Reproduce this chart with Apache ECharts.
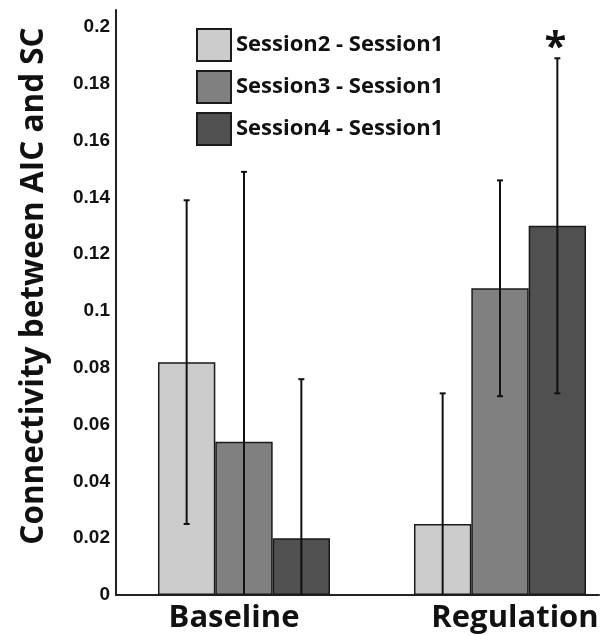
<!DOCTYPE html>
<html>
<head>
<meta charset="utf-8">
<script src="https://cdn.jsdelivr.net/npm/echarts@6/dist/echarts.min.js"></script>
<style>
html,body{margin:0;padding:0;background:#fff;}
#chart{width:609px;height:636px;}
</style>
</head>
<body>
<div id="chart"></div>
<script>
const categories = ['Baseline', 'Regulation'];
const seriesNames = ['Session2 - Session1', 'Session3 - Session1', 'Session4 - Session1'];
const s2Values = [0.082, 0.025];
const s3Values = [0.054, 0.108];
const s4Values = [0.020, 0.130];
const s2Errors = [0.057, 0.046];
const s3Errors = [0.095, 0.038];
const s4Errors = [0.056, 0.059];
const s4Significant = [false, true];
const yTicks = [0, 0.02, 0.04, 0.06, 0.08, 0.1, 0.12, 0.14, 0.16, 0.18, 0.2];

const colors = ['#cccccc', '#808080', '#505050'];
const values = [s2Values, s3Values, s4Values];
const errors = [s2Errors, s3Errors, s4Errors];
const significant = [[false, false], [false, false], s4Significant];
const BAR_FRAC = 0.224;

const chart = echarts.init(document.getElementById('chart'), null, {renderer: 'canvas'});

const series = [];
values.forEach((vals, i) => {
  series.push({
    name: seriesNames[i],
    type: 'bar',
    xAxisIndex: 0, yAxisIndex: 0,
    data: vals,
    barWidth: (BAR_FRAC * 100) + '%',
    barGap: '0%',
    itemStyle: {color: colors[i], borderColor: '#1a1a1a', borderWidth: 1.5},
    emphasis: {disabled: true},
    animation: false,
    z: 2
  });
});
values.forEach((vals, i) => {
  series.push({
    type: 'custom',
    xAxisIndex: 0, yAxisIndex: 0,
    clip: true,
    data: vals.map((v, k) => [k, v - errors[i][k], v + errors[i][k], significant[i][k] ? 1 : 0]),
    renderItem: function (params, api) {
      const band = api.size([1, 0])[0];
      const off = (i - 1) * band * BAR_FRAC;
      const lo = api.coord([api.value(0), api.value(1)]);
      const hi = api.coord([api.value(0), api.value(2)]);
      const x = lo[0] + off;
      const cap = 3;
      const st = {stroke: '#111', lineWidth: 2};
      const children = [
        {type: 'line', shape: {x1: x, y1: lo[1], x2: x, y2: hi[1]}, style: st},
        {type: 'line', shape: {x1: x - cap, y1: hi[1], x2: x + cap, y2: hi[1]}, style: st},
        {type: 'line', shape: {x1: x - cap, y1: lo[1], x2: x + cap, y2: lo[1]}, style: st}
      ];
      if (api.value(3) === 1) {
        children.push({type: 'text', style: {text: '*', x: x - 2, y: hi[1] + 10, align: 'center', verticalAlign: 'bottom',
          font: 'bold 40px "Open Sans"', fill: '#111'}});
      }
      return {type: 'group', children: children};
    },
    animation: false,
    z: 5
  });
});

const option = {
  backgroundColor: '#ffffff',
  animation: false,
  grid: [
    {left: 116, top: 10, bottom: 41, width: 512, containLabel: false, outerBoundsMode: 'none'},
    {left: 116, top: 10, bottom: 41, right: 10, containLabel: false, outerBoundsMode: 'none'},
    {left: 116, top: 10, bottom: 74, right: 10, containLabel: false, outerBoundsMode: 'none'}
  ],
  legend: {
    data: seriesNames,
    orient: 'vertical',
    left: 196, top: 28,
    padding: 0,
    itemWidth: 34, itemHeight: 32, itemGap: 8,
    icon: 'rect',
    selectedMode: false,
    textStyle: {fontFamily: 'Open Sans', fontWeight: 'bold', fontSize: 22, color: '#111'}
  },
  xAxis: [
    {
      type: 'category', gridIndex: 0, data: categories,
      axisLine: {show: false},
      axisTick: {show: false},
      axisLabel: {
        interval: 0, hideOverlap: false,
        margin: 8, fontFamily: 'Open Sans', fontWeight: 'bold', fontSize: 31, color: '#111',
        formatter: (v, idx) => idx === 0 ? '{a|' + v + '}' : '{b|' + v + '}',
        rich: {
          a: {fontFamily: 'Open Sans', fontWeight: 'bold', fontSize: 31, color: '#111', padding: [0, 20, 0, 0]},
          b: {fontFamily: 'Open Sans', fontWeight: 'bold', fontSize: 31, color: '#111', padding: [0, 0, 0, 30]}
        }
      }
    },
    {
      type: 'value', gridIndex: 1, min: 0, max: 1,
      axisLine: {show: true, onZero: false, lineStyle: {color: '#222', width: 2}},
      axisTick: {show: false}, axisLabel: {show: false}, splitLine: {show: false}
    },
    {
      type: 'value', gridIndex: 2, show: false
    }
  ],
  yAxis: [
    {
      type: 'value', gridIndex: 0, min: yTicks[0], max: 0.206, interval: yTicks[1] - yTicks[0],
      axisLine: {show: true, lineStyle: {color: '#222', width: 2}},
      axisTick: {show: false},
      splitLine: {show: false},
      axisLabel: {margin: 6, showMaxLabel: false, fontFamily: 'Liberation Sans', fontWeight: 'bold', fontSize: 19, color: '#111',
        formatter: v => String(+v.toFixed(2))}
    },
    {
      type: 'value', gridIndex: 1, show: false
    },
    {
      type: 'value', gridIndex: 2,
      name: 'Connectivity between AIC and SC',
      nameLocation: 'middle', nameGap: 66,
      nameTextStyle: {fontFamily: 'Open Sans', fontWeight: 'bold', fontSize: 31.5, color: '#111'},
      axisLine: {show: false}, axisTick: {show: false}, axisLabel: {show: false}, splitLine: {show: false}
    }
  ],
  series: series
};
chart.setOption(option);
</script>
</body>
</html>
